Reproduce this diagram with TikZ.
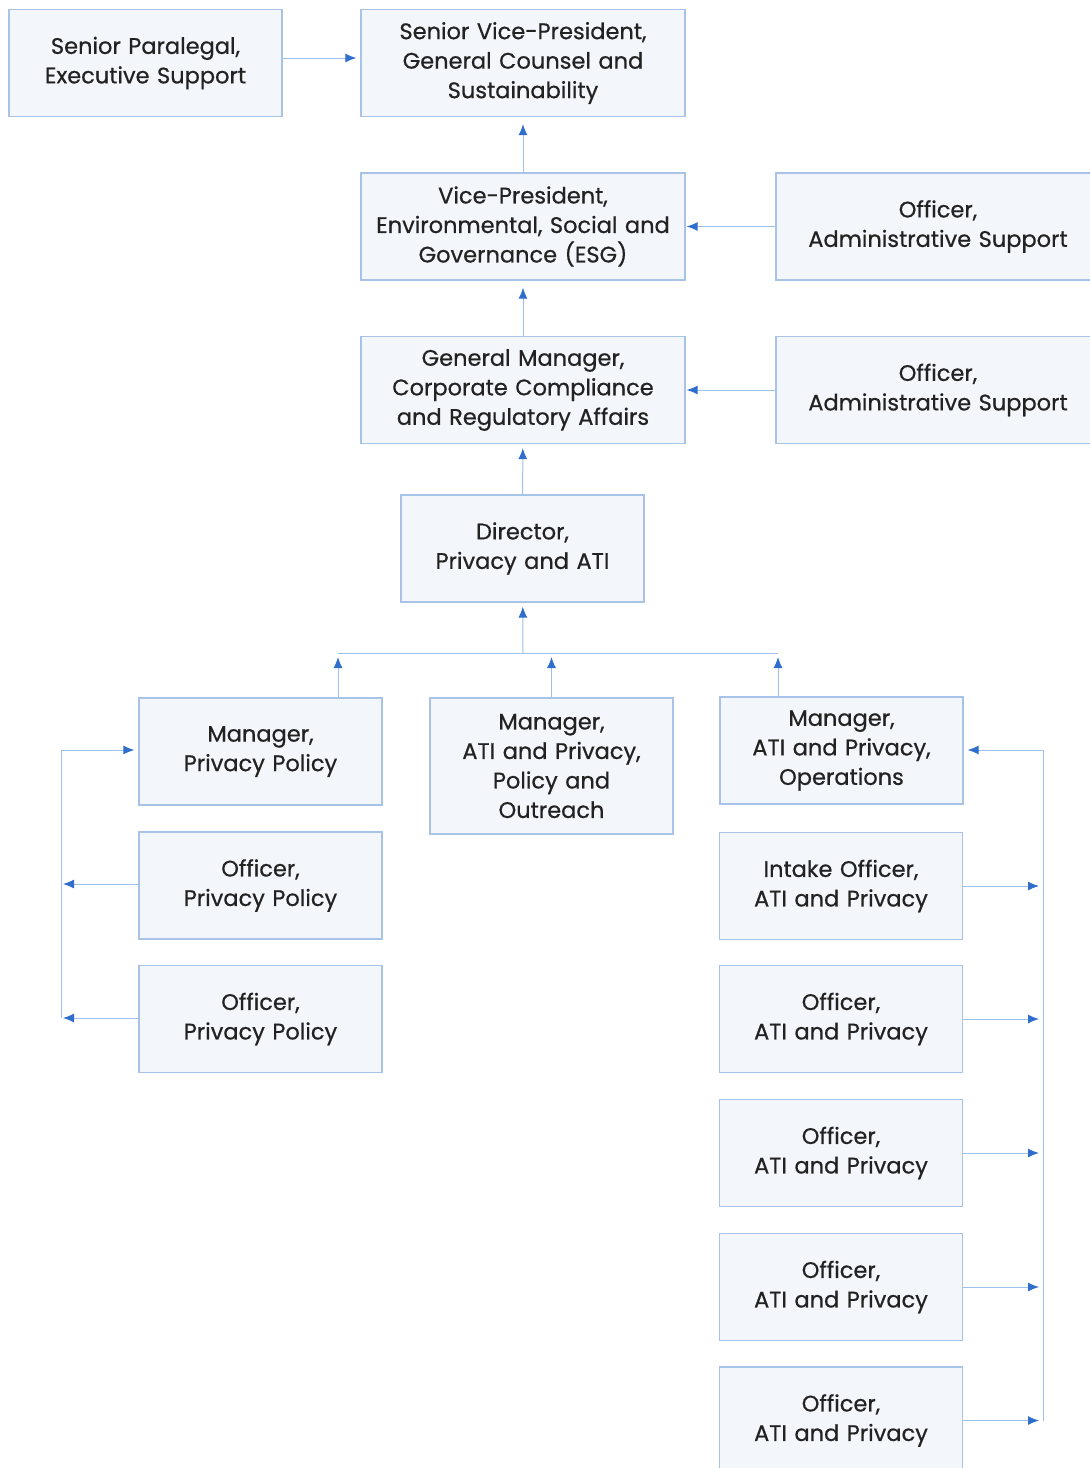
\documentclass[tikz,border=0pt]{standalone}
\usepackage{fontspec}
\setmainfont{Poppins}[FakeBold=0.6]
\usetikzlibrary{arrows.meta}

\definecolor{boxfill}{HTML}{F3F6FB}
\definecolor{boxline}{HTML}{A8C3E8}
\definecolor{lineblue}{HTML}{9DC0EC}
\definecolor{tipblue}{HTML}{2F6ECC}
\definecolor{txt}{HTML}{222222}

\begin{document}
\begin{tikzpicture}[x=1pt,y=-1pt,
	box/.style={draw=boxline, fill=boxfill, line width=1.3pt, inner sep=0pt,
		minimum height=107pt, align=center, text=txt,
		font=\fontsize{22.5}{29.5}\selectfont},
	narrow/.style={box, minimum width=243pt, text width=239pt},
	wide/.style={box, minimum width=324pt, text width=320pt},
	link/.style={draw=lineblue, line width=1pt},
	arr/.style={link, -{Latex[length=11pt,width=9pt,color=tipblue]}, shorten >=4pt}]
	\useasboundingbox (0,0) rectangle (1090,1468);

	% top of the chart
	\node[box, minimum width=273pt, text width=269pt] (para) at (145.5,63) {Senior Paralegal,\\Executive Support};
	\node[wide] (svp) at (523,63) {Senior Vice-President,\\General Counsel and\\Sustainability};
	\node[wide] (vp) at (523,226.5) {Vice-President,\\Environmental, Social and\\Governance (ESG)};
	\node[wide] (adm1) at (938,226.5) {Officer,\\Administrative Support};
	\node[wide] (gm) at (523,390) {General Manager,\\Corporate Compliance\\and Regulatory Affairs};
	\node[wide] (adm2) at (938,390) {Officer,\\Administrative Support};
	\node[narrow] (dir) at (522.5,548.5) {Director,\\Privacy and ATI};

	% managers
	\node[narrow] (mpp) at (260.5,751.5) {Manager,\\Privacy Policy};
	\node[narrow, minimum height=136pt] (mpo) at (551.5,766) {Manager,\\ATI and Privacy,\\Policy and\\Outreach};
	\node[narrow] (mops) at (841.5,750.5) {Manager,\\ATI and Privacy,\\Operations};

	% left column
	\node[narrow] (opp1) at (260.5,885.5) {Officer,\\Privacy Policy};
	\node[narrow] (opp2) at (260.5,1019) {Officer,\\Privacy Policy};

	% right column
	\node[narrow] (oat1) at (841,886) {Intake Officer,\\ATI and Privacy};
	\node[narrow] (oat2) at (841,1019) {Officer,\\ATI and Privacy};
	\node[narrow] (oat3) at (841,1153) {Officer,\\ATI and Privacy};
	\node[narrow] (oat4) at (841,1287) {Officer,\\ATI and Privacy};
	\node[narrow] (oat5) at (841,1420.5) {Officer,\\ATI and Privacy};

	\coordinate (busC) at (523,653);
	\coordinate (busL) at (338,653);
	\coordinate (busR) at (778,653);
	\coordinate (lt) at (61,750);
	\coordinate (lb) at (61,1018);
	\coordinate (rt) at (1043,750);
	\coordinate (rb) at (1043,1420.5);

	\draw[arr] ([yshift=5pt]para.east) -- ([yshift=5pt]svp.west);
	\draw[arr, shorten >=7pt] (vp) -- (svp);
	\draw[arr, shorten >=1pt] (adm1) -- (vp);
	\draw[arr, shorten >=7pt] (gm) -- (vp);
	\draw[arr, shorten >=1pt] (adm2) -- (gm);
	\draw[arr, shorten >=4pt] (dir) -- (gm);

	% bus under the director
	\draw[link] (busL) -- (busR);
	\draw[arr] (busC) -- (dir);
	\draw[arr] (mpp.north -| busL) -- (busL);
	\draw[arr] (mpo.north) -- (mpo.north |- busC);
	\draw[arr] (mops.north -| busR) -- (busR);

	% left bracket
	\draw[link] (lt) -- (lb);
	\draw[arr] (lt) -- (mpp.west |- lt);
	\draw[arr, shorten >=2pt] (opp1.west |- 0,884) -- (lt |- 0,884);
	\draw[arr, shorten >=2pt] (opp2.west |- lb) -- (lb);

	% right bracket
	\draw[link] (rt) -- (rb);
	\draw[arr] (rt) -- (mops.east |- rt);
	\draw[arr] (oat1) -- (oat1 -| rt);
	\draw[arr] (oat2) -- (oat2 -| rt);
	\draw[arr] (oat3) -- (oat3 -| rt);
	\draw[arr] (oat4) -- (oat4 -| rt);
	\draw[arr] (oat5) -- (rb);
\end{tikzpicture}
\end{document}
